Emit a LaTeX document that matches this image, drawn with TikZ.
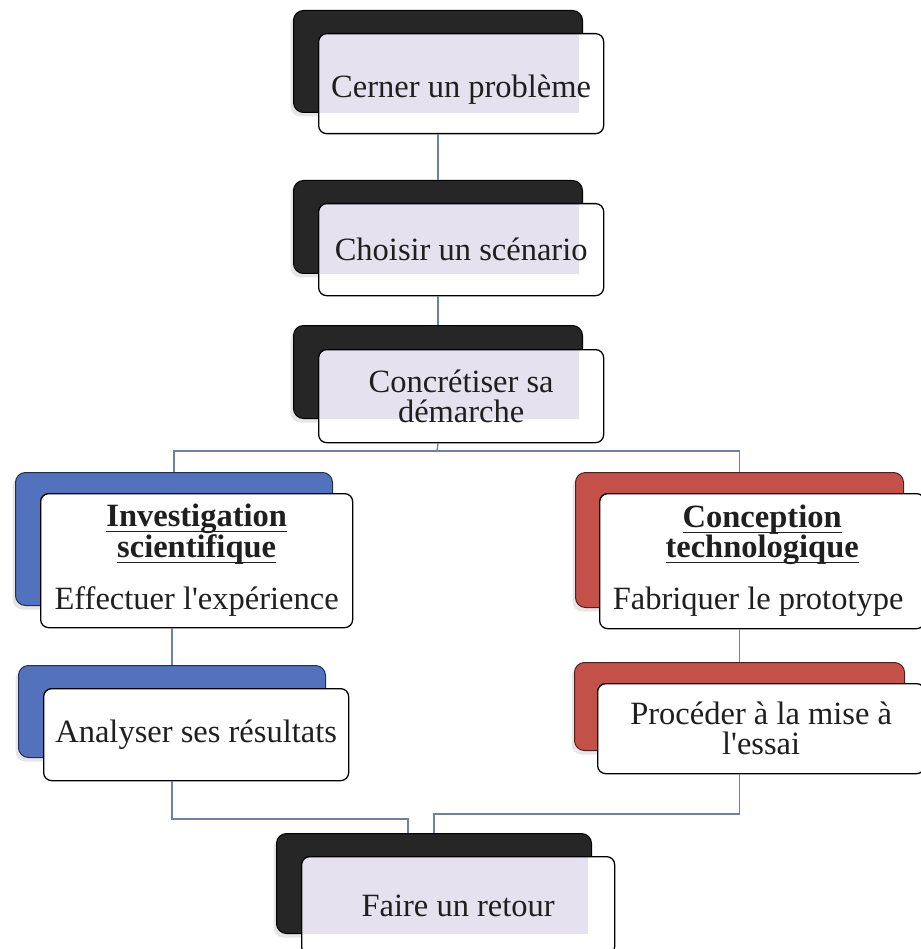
\documentclass[tikz,border=0pt]{standalone}
\usepackage{fontspec}
\setmainfont{Liberation Serif}[Ligatures=TeXOff]
\usetikzlibrary{shadows}
\definecolor{darkbk}{RGB}{38,38,38}
\definecolor{bluebk}{RGB}{82,114,190}
\definecolor{redbk}{RGB}{196,80,74}
\definecolor{lav}{RGB}{229,225,239}
\definecolor{connc}{RGB}{112,128,162}
\newcommand\myul[1]{\leavevmode\setbox0\hbox{#1}\rlap{\rule[-5pt]{\wd0}{1.3pt}}\box0}
\begin{document}
\begin{tikzpicture}[x=1pt,y=-1pt,
  back/.style={rounded corners=10pt, line width=1pt, anchor=north west, inner sep=0pt,
    drop shadow={shadow xshift=-3pt,shadow yshift=-4pt,opacity=0.2}},
  blk/.style={back, fill=darkbk, draw=black},
  blu/.style={back, fill=bluebk, draw=bluebk!40!black},
  rd/.style={back, fill=redbk, draw=redbk!40!black},
  front/.style={rounded corners=8pt, draw=black, line width=1.3pt, fill=white,
    anchor=north west, inner sep=0pt, align=center, text=black!88,
    font=\fontsize{32.5}{30}\selectfont},
  lavfront/.style={front, path picture={\fill[lav, sharp corners] ([shift={(1pt,1pt)}]path picture bounding box.north west) rectangle ([xshift=-4pt]#1.south east);}},
  sz/.style 2 args={minimum width=#1, minimum height=#2},
  conn/.style={draw=connc, line width=1.3pt}
]
\useasboundingbox (0,0) rectangle (920,949);

\node[blk, sz={289pt}{102pt}] (b1) at (293,10) {};
\node[lavfront=b1, sz={285pt}{100pt}, text height=34pt, text depth=6pt] (f1) at (318,33) {Cerner un problème};

\node[blk, sz={289pt}{93pt}] (b2) at (293,180) {};
\node[lavfront=b2, sz={285pt}{92pt}] (f2) at (318,203) {Choisir un scénario};

\node[blk, sz={289pt}{93pt}] (b3) at (293,325) {};
\node[lavfront=b3, sz={285pt}{93pt}] (f3) at (318,349) {Concrétiser sa\\démarche};

\node[blu, sz={317pt}{133pt}] (bl) at (15,472) {};
\node[front, sz={312pt}{134pt}] (fl) at (40,493)
  {\myul{\textbf{Investigation}}\\\myul{\textbf{scientifique}}\\[22pt]Effectuer l'expérience};

\node[rd, sz={328pt}{135pt}] (br) at (575,472) {};
\node[front, sz={325pt}{135pt}] (fr) at (599,493)
  {\myul{\textbf{Conception}}\\\myul{\textbf{technologique}}\\[22pt]Fabriquer le prototype\hspace*{8pt}};

\node[blu, sz={307pt}{92pt}] (ba) at (18,665) {};
\node[front, sz={305pt}{92pt}] (fa) at (43,688) {Analyser ses résultats};

\node[rd, sz={330pt}{88pt}] (bp) at (574,662) {};
\node[front, sz={327pt}{90pt}] (fp) at (597,683) {Procéder à la mise à\\l'essai};

\node[blk, sz={315pt}{100pt}] (bf) at (276,833) {};
\node[lavfront=bf, sz={313pt}{98pt}] (ff) at (301,856) {Faire un retour};

\coordinate (split) at (437,451);
\coordinate (jl) at (408,819);
\coordinate (jr) at (434,814);

\draw[conn] (f1.south -| b1.south) -- (b2.north);
\draw[conn] (f2.south -| b2.south) -- (b3.north);
\draw[conn] (f3.south -| b3.south) -- (split);
\draw[conn] (bl.north) |- (split) -| (br.north);
\draw[conn] (fl.south -| ba.north) -- (ba.north);
\draw[conn] (fr.south -| bp.north) -- (bp.north);
\draw[conn] (fa.south -| ba.north) |- (jl) -- (jl |- bf.north);
\draw[conn] (fp.south -| bp.north) |- (jr) -- (jr |- bf.north);
\end{tikzpicture}
\end{document}
